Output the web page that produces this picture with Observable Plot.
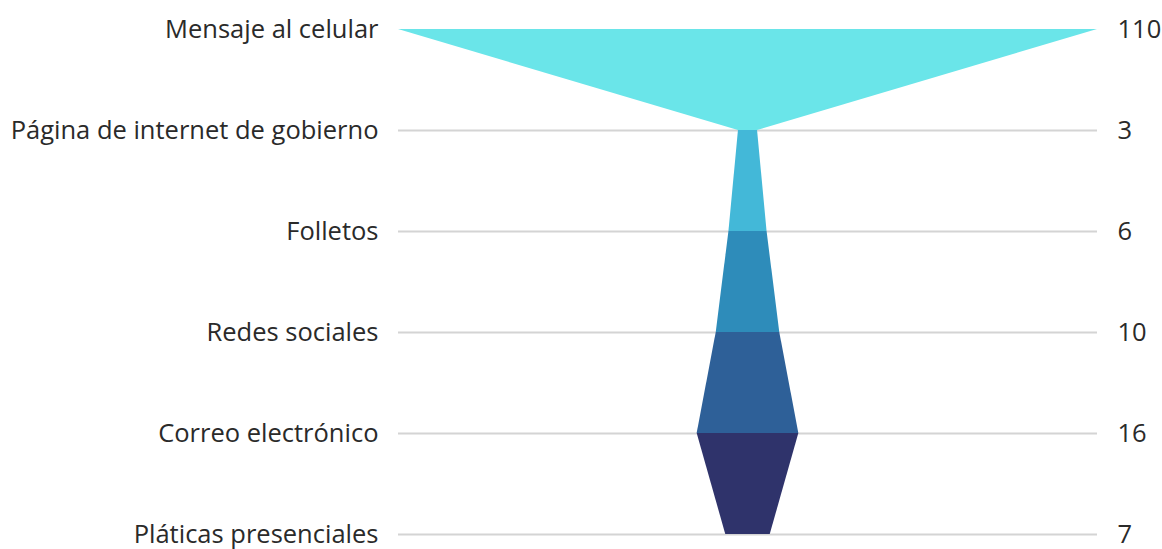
<!DOCTYPE html>
<html>
<head>
<meta charset="utf-8">
<script src="https://cdn.jsdelivr.net/npm/d3@7"></script>
<script src="https://cdn.jsdelivr.net/npm/@observablehq/plot@0.6"></script>
<style>
  html, body { margin: 0; padding: 0; background: #fff; }
  #chart { width: 1162px; height: 549px; }
  svg { font-family: "Open Sans", sans-serif; }
</style>
</head>
<body>
<div id="chart"></div>
<script>
const categories = ["Mensaje al celular", "Página de internet de gobierno", "Folletos", "Redes sociales", "Correo electrónico", "Pláticas presenciales"];
const values = [110, 3, 6, 10, 16, 7];
const colors = ["#6ae5e9", "#43b8d8", "#2e8cba", "#2e6098", "#2f336b"];

const rows = categories.map((c, i) => ({cat: c, v: values[i]}));
const segments = [];
for (let i = 0; i < categories.length - 1; i++) {
  segments.push({seg: i, cat: categories[i], v: values[i]});
  segments.push({seg: i, cat: categories[i + 1], v: values[i + 1]});
}
const maxV = d3.max(values);

const chart = Plot.plot({
  width: 1162,
  height: 549,
  marginLeft: 398,
  marginRight: 65,
  marginTop: 28,
  marginBottom: 14,
  style: {fontFamily: "'Open Sans', sans-serif", fontSize: "25.5px", color: "#2a2a2a"},
  x: {domain: [-maxV / 2, maxV / 2], axis: null},
  y: {type: "point", domain: categories, axis: null, padding: 0},
  color: {type: "ordinal", domain: d3.range(colors.length), range: colors},
  marks: [
    Plot.ruleY(categories.slice(1), {stroke: "#d4d4d4", strokeWidth: 2}),
    Plot.areaX(segments, {
      y: "cat",
      x1: d => -d.v / 2,
      x2: d => d.v / 2,
      z: "seg",
      fill: d => d.seg,
      curve: "linear"
    }),
    Plot.text(rows, {y: "cat", text: "cat", frameAnchor: "left", textAnchor: "end", dx: -20, fill: "#2a2a2a", fontSize: 25.5}),
    Plot.text(rows, {y: "cat", text: d => String(d.v), frameAnchor: "right", textAnchor: "start", dx: 20, fill: "#2a2a2a", fontSize: 25.5})
  ]
});
document.getElementById("chart").appendChild(chart);
</script>
</body>
</html>
